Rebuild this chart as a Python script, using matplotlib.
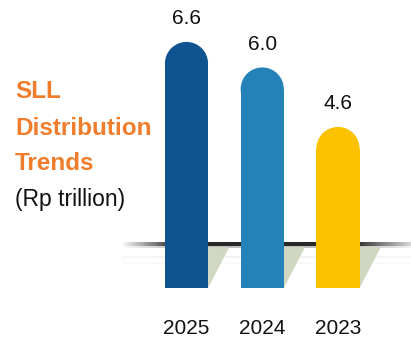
import numpy as np
import matplotlib.pyplot as plt
from matplotlib.patches import Ellipse, Polygon
from matplotlib.collections import LineCollection
from matplotlib.colors import to_rgba

years = ["2025", "2024", "2023"]
values = [6.6, 6.0, 4.6]
colors = ["#0F5391", "#2482B9", "#FCC200"]
title_lines = ["SLL", "Distribution", "Trends"]
unit_label = "(Rp trillion)"

plt.rcParams["font.family"] = ["Liberation Sans", "DejaVu Sans"]

fig = plt.figure(figsize=(4.11, 3.38), dpi=100)
ax = fig.add_axes([0, 0, 1, 1])
ax.set_xlim(-2.462, 2.964)
ax.set_ylim(-0.366, 7.586)
ax.axis("off")

x = np.arange(len(values))
width = 0.57
floor = 0.81
base_y = 1.85

# pixel scale, used to keep the rounded caps circular
px_x = ax.transData.transform((1, 0))[0] - ax.transData.transform((0, 0))[0]
px_y = ax.transData.transform((0, 1))[1] - ax.transData.transform((0, 0))[1]
r_y = width / 2 * px_x / px_y

# baseline with faded ends
def fade_line(x0, x1, y, c, lw, a_left, a_mid, a_right, fl, fr, z):
    xs = np.linspace(x0, x1, 200)
    segs = [[(xs[i], y), (xs[i + 1], y)] for i in range(len(xs) - 1)]
    cols = []
    for i in range(len(xs) - 1):
        t = (xs[i] - x0) / (x1 - x0)
        if t < fl:
            a = a_left + (a_mid - a_left) * t / fl
        elif t > 1 - fr:
            a = a_mid + (a_right - a_mid) * (t - (1 - fr)) / fr
        else:
            a = a_mid
        cols.append(to_rgba(c, a))
    ax.add_collection(LineCollection(segs, colors=cols, linewidths=lw, zorder=z))

x_left = x[0] - width / 2 - 0.55
x_right = x[-1] + width / 2 + 0.69
fade_line(x_left, x_right, base_y, "#1c1c1c", 2.9, 0.05, 0.95, 0.15, 0.18, 0.2, 1)
fade_line(x_left, x_right, base_y - 0.08, "#8a8a8a", 1.4, 0.05, 0.55, 0.1, 0.18, 0.2, 1)
fade_line(x_left, x_right, base_y - 0.3, "#dddddd", 1.2, 0.3, 0.4, 0.3, 0.2, 0.2, 0.5)
fade_line(x_left, x_right, base_y - 0.45, "#eeeeee", 1.2, 0.3, 0.4, 0.3, 0.2, 0.2, 0.5)

# bar shadows
for xi in x:
    xr = xi + width / 2
    ax.add_patch(Polygon([(xr, base_y - 0.08), (xr + 0.28, base_y - 0.08), (xr, floor)],
                         closed=True, facecolor="#D1D8C2", edgecolor="none", zorder=1.5))

# bars with rounded tops
for xi, v, c in zip(x, values, colors):
    ax.bar(xi, v - r_y - floor, width=width, bottom=floor, color=c, zorder=2)
    ax.add_patch(Ellipse((xi, v - r_y), width, 2 * r_y, facecolor=c, edgecolor="none", zorder=2))
    ax.annotate(f"{v:.1f}", (xi, v), xytext=(0, 10), textcoords="offset points",
                ha="center", va="bottom", fontsize=15, color="#111111")
    ax.annotate(years[xi], (xi, floor), xytext=(0, -29.5), textcoords="offset points",
                ha="center", va="center", fontsize=15, color="#111111")

# title block
for txt, yb in zip(title_lines, [0.710, 0.6006, 0.497]):
    fig.text(0.0365, yb, txt, color="#F07D2B", fontsize=17.5, fontweight="bold", va="baseline")
fig.text(0.0365, 0.392, unit_label, color="#111111", fontsize=16.5, va="baseline")

fig.savefig("out.png", dpi=100)
